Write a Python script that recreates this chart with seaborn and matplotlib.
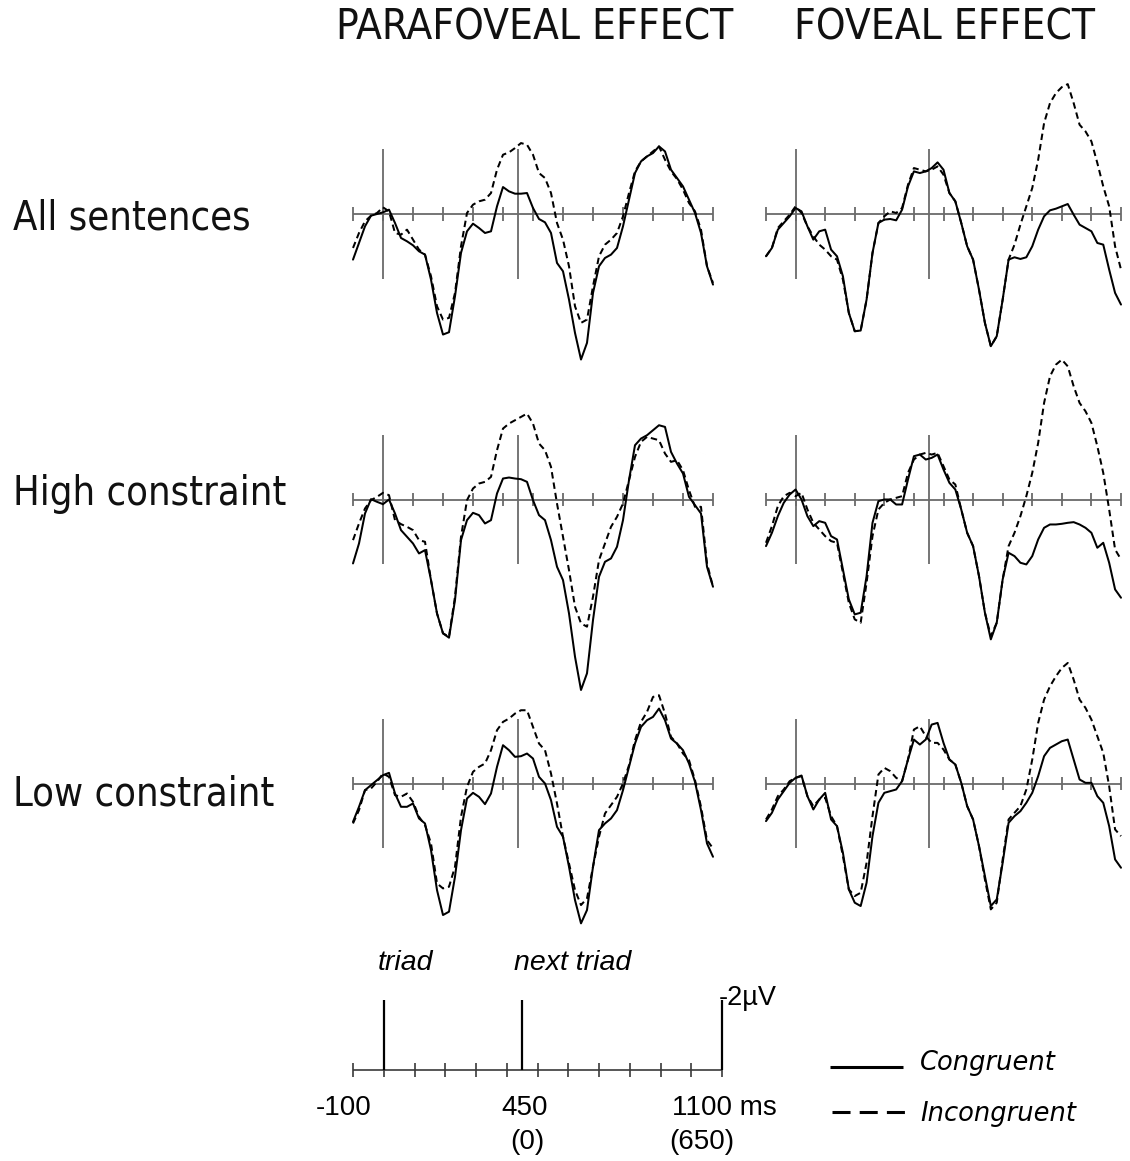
import numpy as np
import pandas as pd
import matplotlib
matplotlib.use("Agg")
import matplotlib.pyplot as plt
import seaborn as sns

# ---------------------------------------------------------------------------
# ERP waveforms (µV, negative plotted up), one sample every 20 ms
# ---------------------------------------------------------------------------
time_ms = np.arange(-100, 1101, 20)

para_all_congruent = [1.37, 0.87, 0.37, 0.05, 0.0, -0.05, -0.13, 0.27, 0.72, 0.82,
                      0.94, 1.12, 1.22, 1.97, 2.97, 3.62, 3.55, 2.47, 1.17, 0.52,
                      0.29, 0.42, 0.57, 0.52, -0.23, -0.81, -0.68, -0.61, -0.61, -0.63,
                      -0.18, 0.15, 0.25, 0.57, 1.47, 1.72, 2.57, 3.57, 4.37, 3.87,
                      2.37, 1.57, 1.32, 1.22, 1.02, 0.37, -0.43, -1.23, -1.58, -1.73,
                      -1.83, -2.03, -1.88, -1.33, -1.08, -0.83, -0.43, -0.03, 0.57, 1.57,
                      2.12]
para_all_incongruent = [1.02, 0.57, 0.22, 0.05, -0.03, -0.20, -0.08, 0.57, 0.62, 0.47,
                        0.77, 1.07, 1.22, 1.87, 2.77, 3.17, 3.12, 2.37, 0.97, -0.03,
                        -0.28, -0.38, -0.43, -0.63, -1.33, -1.78, -1.85, -1.98, -2.13, -2.08,
                        -1.78, -1.23, -1.08, -0.63, 0.27, 0.77, 1.57, 2.77, 3.27, 3.17,
                        2.17, 1.27, 0.92, 0.77, 0.57, 0.07, -0.63, -1.28, -1.58, -1.73,
                        -1.88, -2.03, -1.63, -1.28, -1.05, -0.73, -0.33, -0.08, 0.47, 1.57,
                        2.07]

fov_all_congruent = [1.27, 1.02, 0.47, 0.27, 0.07, -0.18, -0.08, 0.37, 0.77, 0.52,
                     0.47, 1.07, 1.27, 1.87, 2.97, 3.52, 3.50, 2.57, 1.17, 0.27,
                     0.17, 0.15, 0.19, -0.13, -0.83, -1.28, -1.23, -1.28, -1.38, -1.55,
                     -1.33, -0.63, -0.38, 0.27, 0.97, 1.37, 2.27, 3.27, 3.97, 3.67,
                     2.57, 1.37, 1.30, 1.35, 1.30, 0.97, 0.47, 0.07, -0.11, -0.16,
                     -0.23, -0.30, 0.02, 0.32, 0.42, 0.52, 0.87, 0.92, 1.67, 2.37,
                     2.72]
fov_all_incongruent = [1.27, 1.02, 0.42, 0.22, 0.02, -0.23, -0.03, 0.37, 0.67, 0.92,
                       1.07, 1.27, 1.37, 1.97, 2.97, 3.52, 3.50, 2.57, 1.17, 0.27,
                       0.07, -0.08, -0.03, -0.18, -0.88, -1.38, -1.33, -1.28, -1.33, -1.43,
                       -1.18, -0.63, -0.38, 0.27, 0.97, 1.37, 2.27, 3.27, 3.97, 3.67,
                       2.57, 1.37, 0.92, 0.32, -0.23, -0.78, -1.63, -2.73, -3.33, -3.63,
                       -3.81, -3.90, -3.33, -2.68, -2.48, -2.18, -1.53, -0.83, -0.23, 0.97,
                       1.67]

para_high_congruent = [1.92, 1.32, 0.42, -0.01, 0.07, 0.14, 0.0, 0.42, 0.92, 1.12,
                       1.32, 1.62, 1.52, 2.42, 3.42, 4.02, 4.15, 3.02, 1.22, 0.62,
                       0.40, 0.47, 0.72, 0.62, -0.18, -0.63, -0.66, -0.63, -0.61, -0.53,
                       0.02, 0.47, 0.62, 1.22, 2.02, 2.42, 3.42, 4.72, 5.72, 5.22,
                       3.62, 2.32, 1.87, 1.77, 1.42, 0.62, -0.58, -1.63, -1.83, -1.93,
                       -2.08, -2.23, -2.18, -1.43, -1.08, -0.78, -0.08, 0.17, 0.42, 2.02,
                       2.62]
para_high_incongruent = [1.22, 0.72, 0.27, 0.02, -0.08, -0.20, -0.13, 0.62, 0.74, 0.82,
                         0.92, 1.22, 1.27, 2.42, 3.42, 4.02, 4.12, 2.92, 1.12, 0.02,
                         -0.33, -0.48, -0.53, -0.68, -1.48, -2.13, -2.28, -2.38, -2.48, -2.58,
                         -2.28, -1.68, -1.48, -0.98, 0.12, 1.12, 2.12, 3.22, 3.72, 3.82,
                         2.92, 1.82, 1.32, 0.82, 0.52, 0.12, -0.58, -1.28, -1.73, -1.88,
                         -1.83, -1.78, -1.38, -1.13, -1.18, -0.88, -0.28, 0.22, 0.22, 1.92,
                         2.62]

fov_high_congruent = [1.40, 1.00, 0.50, 0.10, -0.15, -0.30, 0.0, 0.50, 0.80, 0.65,
                      0.70, 1.10, 1.20, 2.10, 3.00, 3.45, 3.40, 2.30, 0.70, 0.05,
                      0.0, 0.0, 0.15, 0.15, -0.60, -1.30, -1.35, -1.20, -1.25, -1.35,
                      -0.90, -0.50, -0.30, 0.30, 1.00, 1.40, 2.30, 3.40, 4.20, 3.70,
                      2.40, 1.60, 1.70, 1.90, 1.95, 1.70, 1.20, 0.85, 0.75, 0.75,
                      0.73, 0.70, 0.68, 0.75, 0.85, 1.00, 1.45, 1.30, 1.90, 2.70,
                      2.95]
fov_high_incongruent = [1.30, 0.80, 0.20, -0.10, -0.20, -0.10, -0.20, 0.30, 0.70, 0.90,
                        1.10, 1.25, 1.30, 2.20, 3.10, 3.60, 3.70, 2.50, 1.10, 0.30,
                        0.10, 0.0, -0.05, -0.10, -0.80, -1.20, -1.35, -1.40, -1.35, -1.40,
                        -1.00, -0.60, -0.45, 0.30, 1.00, 1.40, 2.30, 3.40, 4.10, 3.70,
                        2.40, 1.40, 1.00, 0.50, -0.10, -0.80, -1.70, -2.90, -3.70, -4.05,
                        -4.20, -4.00, -3.40, -2.90, -2.65, -2.30, -1.60, -0.80, 0.30, 1.50,
                        1.80]

para_low_congruent = [1.15, 0.70, 0.20, 0.05, -0.10, -0.25, -0.32, 0.30, 0.70, 0.70,
                      0.60, 1.05, 1.20, 2.00, 3.20, 3.95, 3.85, 2.80, 1.40, 0.45,
                      0.28, 0.40, 0.62, 0.30, -0.50, -1.15, -1.00, -0.80, -0.82, -0.90,
                      -0.75, -0.20, 0.0, 0.50, 1.30, 1.60, 2.50, 3.50, 4.20, 3.80,
                      2.50, 1.40, 1.20, 1.05, 0.80, 0.20, -0.50, -1.20, -1.70, -1.90,
                      -2.00, -2.25, -1.90, -1.35, -1.20, -1.00, -0.60, -0.05, 0.80, 1.80,
                      2.20]
para_low_incongruent = [1.20, 0.80, 0.20, 0.15, -0.05, -0.30, -0.20, 0.35, 0.40, 0.30,
                        0.55, 1.00, 1.25, 1.80, 3.00, 3.15, 3.10, 2.50, 1.00, 0.10,
                        -0.35, -0.50, -0.60, -1.00, -1.60, -1.85, -1.95, -2.10, -2.20, -2.20,
                        -1.70, -1.20, -1.00, -0.30, 0.60, 1.60, 2.40, 3.20, 3.65, 3.45,
                        2.50, 1.60, 0.90, 0.65, 0.40, 0.0, -0.55, -1.30, -1.85, -2.15,
                        -2.60, -2.65, -2.10, -1.40, -1.20, -0.90, -0.70, -0.10, 0.70, 1.70,
                        1.95]

fov_low_congruent = [1.13, 0.88, 0.48, 0.23, -0.02, -0.17, -0.24, 0.38, 0.78, 0.48,
                     0.28, 1.08, 1.28, 2.08, 3.18, 3.58, 3.68, 2.98, 1.58, 0.58,
                     0.28, 0.23, 0.18, -0.07, -0.72, -1.32, -1.17, -1.32, -1.77, -1.82,
                     -1.22, -0.72, -0.57, -0.02, 0.68, 1.08, 1.88, 2.78, 3.68, 3.48,
                     2.38, 1.18, 0.98, 0.83, 0.58, 0.28, -0.22, -0.82, -1.07, -1.17,
                     -1.27, -1.32, -0.72, -0.12, -0.02, -0.02, 0.38, 0.58, 1.28, 2.28,
                     2.53]
fov_low_incongruent = [1.08, 0.78, 0.38, 0.18, -0.07, -0.17, -0.22, 0.38, 0.68, 0.48,
                       0.43, 0.98, 1.28, 2.18, 3.18, 3.38, 3.28, 2.38, 0.98, -0.27,
                       -0.47, -0.37, -0.17, -0.07, -0.72, -1.62, -1.72, -1.42, -1.22, -1.22,
                       -1.02, -0.72, -0.57, -0.02, 0.68, 1.08, 1.88, 2.88, 3.78, 3.58,
                       2.28, 1.08, 0.88, 0.68, 0.18, -0.72, -1.82, -2.52, -2.92, -3.22,
                       -3.47, -3.62, -3.12, -2.52, -2.27, -1.92, -1.42, -0.92, 0.08, 1.38,
                       1.58]

column_titles = ["PARAFOVEAL EFFECT", "FOVEAL EFFECT"]
row_titles = ["All sentences", "High constraint", "Low constraint"]
conditions = ["Congruent", "Incongruent"]
panel_waves = [
    [(para_all_congruent, para_all_incongruent), (fov_all_congruent, fov_all_incongruent)],
    [(para_high_congruent, para_high_incongruent), (fov_high_congruent, fov_high_incongruent)],
    [(para_low_congruent, para_low_incongruent), (fov_low_congruent, fov_low_incongruent)],
]

grid_ticks_ms = np.arange(-100, 1101, 100)
event_ms = [0, 450]

# ---------------------------------------------------------------------------
# Figure layout (pixel geometry)
# ---------------------------------------------------------------------------
W, H = 1130, 1161
PX_PER_UV = 33.3
AXIS_GREY = "#6a6a6a"

sns.set_style("white")
plt.rcParams["font.family"] = ["DejaVu Sans"]

fig = plt.figure(figsize=(W / 100, H / 100), dpi=100)

overlay = fig.add_axes([0, 0, 1, 1])
overlay.set_xlim(0, W)
overlay.set_ylim(H, 0)
overlay.axis("off")


def wave_axes(x_left, x_right, baseline, px_per_uv, up_uv, down_uv):
    """Axes spanning -100..1100 ms horizontally, negative voltage plotted up."""
    top_px = baseline - up_uv * px_per_uv
    bot_px = baseline + down_uv * px_per_uv
    ax = fig.add_axes([x_left / W, 1 - bot_px / H,
                       (x_right - x_left) / W, (bot_px - top_px) / H])
    ax.set_xlim(-100, 1100)
    ax.set_ylim(down_uv, -up_uv)
    ax.axis("off")
    ax.patch.set_alpha(0)
    return ax


col_x = [(353, 713), (766, 1121)]
row_base = [214, 499.5, 783.5]

for r, base in enumerate(row_base):
    for c, (xl, xr) in enumerate(col_x):
        ax = wave_axes(xl, xr, base, PX_PER_UV, 5.5, 6.5)
        ax.hlines(0, -100, 1100, color=AXIS_GREY, lw=1.3, zorder=1, clip_on=False)
        ax.vlines(grid_ticks_ms, -0.21, 0.21, color=AXIS_GREY, lw=1.3, zorder=1, clip_on=False)
        ax.vlines(event_ms, -1.95, 1.95, color=AXIS_GREY, lw=1.3, zorder=1, clip_on=False)

        cong, incong = panel_waves[r][c]
        df = pd.DataFrame({
            "time": np.tile(time_ms, 2),
            "uV": np.r_[cong, incong],
            "condition": [conditions[0]] * len(time_ms) + [conditions[1]] * len(time_ms),
        })
        sns.lineplot(data=df, x="time", y="uV", style="condition",
                     dashes={"Congruent": "", "Incongruent": (3.2, 2)},
                     color="black", lw=1.45, legend=False, ax=ax,
                     estimator=None, sort=False, zorder=3, clip_on=False,
                     solid_joinstyle="round", dash_joinstyle="round")
        ax.axis("off")

# column and row headings
head_font = dict(family="DejaVu Sans", fontstretch="condensed", color="#111111")
overlay.text(534.5, 39, column_titles[0], ha="center", va="baseline", fontsize=30.3, **head_font)
overlay.text(944.5, 39, column_titles[1], ha="center", va="baseline", fontsize=30.3, **head_font)
for label, y in zip(row_titles, [230, 505, 805]):
    overlay.text(13, y, label, ha="left", va="baseline", fontsize=28.5, **head_font)

# ---------------------------------------------------------------------------
# Time / voltage scale
# ---------------------------------------------------------------------------
scale_ax = wave_axes(353, 722, 1070, 35.0, 3.0, 1.0)
scale_ax.hlines(0, -100, 1100, color="#3a3a3a", lw=1.2, clip_on=False)
scale_ax.vlines(grid_ticks_ms, -0.2, 0.2, color="#3a3a3a", lw=1.2, clip_on=False)
scale_ax.vlines([0, 450, 1100], -2.0, 0, color="black", lw=1.6, clip_on=False)

arial = dict(family="Liberation Sans", color="black")
overlay.text(405, 970, "triad", ha="center", va="baseline", fontsize=20.5, style="italic", **arial)
overlay.text(573, 970, "next triad", ha="center", va="baseline", fontsize=20.5, style="italic", **arial)
overlay.text(719, 1005, "-2µV", ha="left", va="baseline", fontsize=19.5, **arial)
overlay.text(343.5, 1115, "-100", ha="center", va="baseline", fontsize=20, **arial)
overlay.text(525, 1115, "450", ha="center", va="baseline", fontsize=20, **arial)
overlay.text(672, 1115, "1100 ms", ha="left", va="baseline", fontsize=20, **arial)
overlay.text(527, 1149, "(0)", ha="center", va="baseline", fontsize=20, **arial)
overlay.text(701.5, 1149, "(650)", ha="center", va="baseline", fontsize=20, **arial)

# ---------------------------------------------------------------------------
# Legend
# ---------------------------------------------------------------------------
overlay.plot([830, 903], [1067, 1067], color="black", lw=2.2, solid_capstyle="butt")
overlay.plot([832, 905], [1112, 1112], color="black", lw=2.2,
             dashes=(5.9, 3.0), dash_capstyle="butt")
legend_font = dict(family="DejaVu Sans", fontsize=18.5, style="italic", color="black")
overlay.text(920, 1070, conditions[0], ha="left", va="baseline", **legend_font)
overlay.text(920, 1121, conditions[1], ha="left", va="baseline", **legend_font)

fig.savefig("out.png", dpi=100, facecolor="white")
